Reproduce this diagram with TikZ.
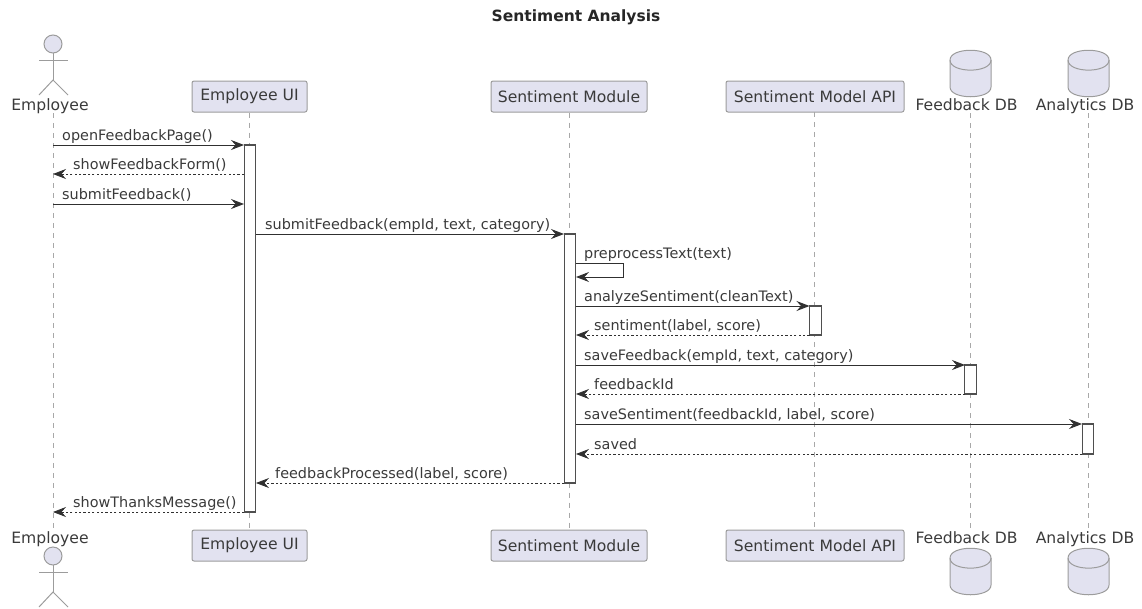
\documentclass[tikz,border=0pt]{standalone}
\usepackage{fontspec}
\setmainfont{DejaVu Sans}
\usetikzlibrary{arrows.meta}
\definecolor{boxfill}{HTML}{E2E2F0}
\definecolor{boxline}{HTML}{9C9C9C}
\definecolor{inkline}{HTML}{303030}
\definecolor{inktext}{HTML}{3A3A3A}
\definecolor{lifecol}{HTML}{A8A8A8}
\newcommand{\txtsize}{\fontsize{14.4}{17}\selectfont}
\newcommand{\headsize}{\fontsize{15.6}{18}\selectfont}
\tikzset{
  x=1pt,y=-1pt,
  partbox/.style={draw=boxline,line width=1pt,fill=boxfill,rounded corners=2pt,minimum height=31pt,inner sep=0pt,text=inktext,font=\headsize},
  headlabel/.style={text=inktext,font=\headsize,inner sep=0pt},
  lifeline/.style={draw=lifecol,line width=0.9pt,dash pattern=on 5pt off 5pt},
  actbar/.style={draw=inkline!85,line width=1.2pt,fill=white,minimum width=11.5pt,inner sep=0pt},
  figure/.style={draw=boxline,line width=1pt},
  db/.style={draw=boxline,line width=1pt,fill=boxfill},
  msgsolid/.style={draw=inkline,line width=1pt,-{Stealth[length=13pt,width=10pt,inset=4.5pt]}},
  msgdash/.style={draw=inkline,line width=0.8pt,dash pattern=on 2.2pt off 2.2pt,-{Stealth[length=13pt,width=10pt,inset=4.5pt]}},
  msglabel/.style={anchor=base west,text=inktext,font=\txtsize,inner sep=0pt},
}
% actor: #1 = name, #2 = head centre y
\newcommand{\actorfig}[2]{%
  \node[figure,circle,fill=boxfill,minimum size=18pt,inner sep=0pt] (#1head) at (53,#2) {};
  \coordinate (#1neck) at (53,#2+9);
  \coordinate (#1hip) at (53,#2+36);
  \coordinate (#1al) at (39,#2+16);
  \coordinate (#1ar) at (68,#2+16);
  \coordinate (#1ll) at (39,#2+51);
  \coordinate (#1lr) at (68,#2+51);
  \draw[figure] (#1neck) -- (#1hip);
  \draw[figure] (#1al) -- (#1ar);
  \draw[figure] (#1ll) -- (#1hip) -- (#1lr);
}
% database: #1 = centre x, #2 = top y
\newcommand{\dbfig}[2]{%
  \path[db] (#1-20.5,#2+10) .. controls (#1-20.5,#2-3) and (#1+20.5,#2-3) .. (#1+20.5,#2+10)
    -- (#1+20.5,#2+37) .. controls (#1+20.5,#2+50) and (#1-20.5,#2+50) .. (#1-20.5,#2+37) -- cycle;
  \draw[figure] (#1-20.5,#2+10) .. controls (#1-20.5,#2+23.5) and (#1+20.5,#2+23.5) .. (#1+20.5,#2+10);
}
% message: #1 id, #2 x from, #3 x to, #4 y, #5 style, #6 text x, #7 text
\newcommand{\msg}[7]{%
  \coordinate (#1s) at (#2,#4);
  \coordinate (#1e) at (#3,#4);
  \draw[#5] (#1s) -- (#1e);
  \node[msglabel] (#1t) at (#6,#4-5) {#7};
}
\begin{document}
\begin{tikzpicture}
\useasboundingbox (0,0) rectangle (1142,608);

\node[font=\bfseries\fontsize{15.5}{18}\selectfont,text=black!85,inner sep=0pt] (title) at (576,17) {Sentiment Analysis};

% heads
\node[headlabel] (empT) at (50,106) {Employee};
\node[headlabel] (empB) at (50,539) {Employee};
\node[partbox,minimum width=115pt] (uiT) at (249.5,96.5) {Employee UI};
\node[partbox,minimum width=115pt] (uiB) at (249.5,545.5) {Employee UI};
\node[partbox,minimum width=156pt] (smT) at (569,96.5) {Sentiment Module};
\node[partbox,minimum width=156pt] (smB) at (569,545.5) {Sentiment Module};
\node[partbox,minimum width=178pt] (apiT) at (815,96.5) {Sentiment Model API};
\node[partbox,minimum width=178pt] (apiB) at (815,545.5) {Sentiment Model API};
\node[headlabel] (fbT) at (966.5,105) {Feedback DB};
\node[headlabel] (fbB) at (966.5,538) {Feedback DB};
\node[headlabel] (anT) at (1085,106) {Analytics DB};
\node[headlabel] (anB) at (1085,539) {Analytics DB};

% lifelines
\draw[lifeline] (53,113) -- (53,530);
\draw[lifeline] (uiT) -- (uiB);
\draw[lifeline] (smT) -- (smB);
\draw[lifeline] (814,112) -- (814,530);
\draw[lifeline] (970.5,113) -- (970.5,530);
\draw[lifeline] (1088.5,113) -- (1088.5,530);

% figures
\actorfig{empA}{44}
\actorfig{empC}{556}
\dbfig{970.5}{50}
\dbfig{1088.5}{50}
\dbfig{970.5}{548}
\dbfig{1088.5}{548}

% activations
\node[actbar,minimum height=367pt] (barUI) at (250,328.5) {};
\node[actbar,minimum height=249pt] (barSM) at (570,358.5) {};
\node[actbar,minimum height=29pt] (barAPI) at (815.5,320.5) {};
\node[actbar,minimum height=29pt] (barFB) at (970.5,379.5) {};
\node[actbar,minimum height=30pt] (barAN) at (1088,439) {};

% messages
\msg{m1}{53}{244}{145}{msgsolid}{62}{openFeedbackPage()}
\msg{m2}{244}{53}{174}{msgdash}{73}{showFeedbackForm()}
\msg{m3}{53}{244}{204}{msgsolid}{62}{submitFeedback()}
\msg{m4}{256}{564}{234}{msgsolid}{265}{submitFeedback(empId, text, category)}
\coordinate (loopA) at (576,263);
\coordinate (loopB) at (623,263);
\coordinate (loopC) at (623,277);
\coordinate (loopD) at (576,277);
\draw[msgsolid] (loopA) -- (loopB) -- (loopC) -- (loopD);
\node[msglabel] (m5t) at (584,258) {preprocessText(text)};
\msg{m6}{576}{809.5}{306}{msgsolid}{584}{analyzeSentiment(cleanText)}
\msg{m7}{809.5}{576}{335}{msgdash}{594}{sentiment(label, score)}
\msg{m8}{576}{965}{365}{msgsolid}{584}{saveFeedback(empId, text, category)}
\msg{m9}{965}{576}{394}{msgdash}{594}{feedbackId}
\msg{m10}{576}{1082}{424}{msgsolid}{584}{saveSentiment(feedbackId, label, score)}
\msg{m11}{1082}{576}{454}{msgdash}{594}{saved}
\msg{m12}{564}{256}{483}{msgdash}{275}{feedbackProcessed(label, score)}
\msg{m13}{244}{53}{512}{msgdash}{73}{showThanksMessage()}
\end{tikzpicture}
\end{document}
